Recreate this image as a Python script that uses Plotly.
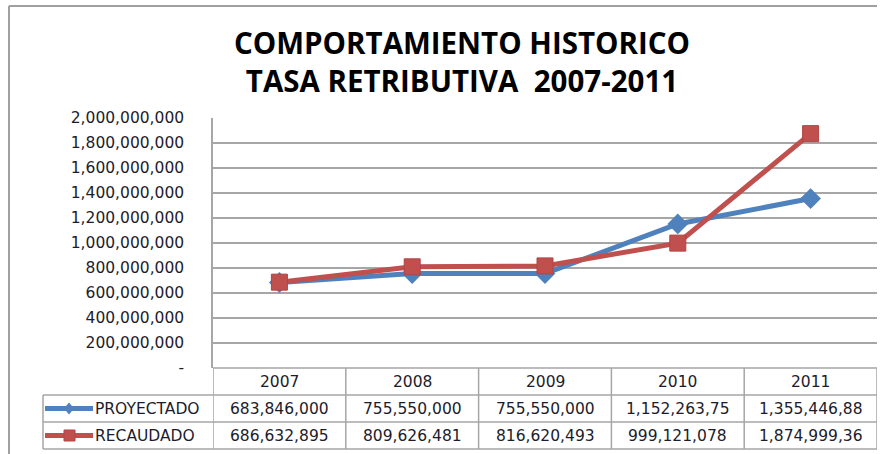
import plotly.graph_objects as go

# data
years = ['2007', '2008', '2009', '2010', '2011']
proyectado = [683846000, 755550000, 755550000, 1152263750, 1355446880]
recaudado = [686632895, 809626481, 816620493, 999121078, 1874999360]
# the table in the picture shows truncated cells for the last two years
proyectado_txt = ['683,846,000', '755,550,000', '755,550,000', '1,152,263,75', '1,355,446,88']
recaudado_txt = ['686,632,895', '809,626,481', '816,620,493', '999,121,078', '1,874,999,36']
y_ticks = [0, 200000000, 400000000, 600000000, 800000000, 1000000000,
           1200000000, 1400000000, 1600000000, 1800000000, 2000000000]
y_tick_labels = ['-', '200,000,000', '400,000,000', '600,000,000', '800,000,000',
                 '1,000,000,000', '1,200,000,000', '1,400,000,000', '1,600,000,000',
                 '1,800,000,000', '2,000,000,000']
series_names = ['PROYECTADO', 'RECAUDADO']
title_lines = ['COMPORTAMIENTO HISTORICO', 'TASA RETRIBUTIVA&nbsp; 2007-2011']

BLUE = '#4F81BD'
RED = '#C0504D'
GRID = '#a6a6a6'
TXT = '#1c1c2c'

W, H = 888, 454
L, R, T, B = 213, 11, 118, 86
PH = H - T - B          # plot height in px
PW = W - L - R

def py(y_px):           # pixel row -> paper y
    return (H - B - y_px) / PH

def px(x_px):           # pixel column -> paper x
    return (x_px - L) / PW

fig = go.Figure()
fig.add_trace(go.Scatter(x=years, y=proyectado, name=series_names[0], mode='lines+markers',
                         line=dict(color=BLUE, width=5),
                         marker=dict(symbol='diamond', size=16, color=BLUE)))
fig.add_trace(go.Scatter(x=years, y=recaudado, name=series_names[1], mode='lines+markers',
                         line=dict(color=RED, width=5),
                         marker=dict(symbol='square', size=16, color=RED,
                                     line=dict(color='#b04542', width=1))))

shapes = []
line_style = dict(color=GRID, width=1.5)
# table horizontal rules
shapes.append(dict(type='line', xref='x', yref='paper', x0=-0.5, x1=4.5,
                   y0=0, y1=0, line=line_style))
for yp in [395, 422, 449]:
    shapes.append(dict(type='line', xref='paper', yref='paper', x0=px(43), x1=1,
                       y0=py(yp), y1=py(yp), line=line_style))
# table vertical rules
for i in range(len(years) + 1):
    shapes.append(dict(type='line', xref='x', yref='paper', x0=i - 0.5, x1=i - 0.5,
                       y0=0, y1=py(449), line=line_style))
shapes.append(dict(type='line', xref='paper', yref='paper', x0=px(43), x1=px(43),
                   y0=py(395), y1=py(449), line=line_style))
# outer chart border (left and top)
shapes.append(dict(type='line', xref='paper', yref='paper', x0=px(9), x1=px(9),
                   y0=py(6), y1=py(456), line=dict(color='#a0a0a0', width=2)))
shapes.append(dict(type='line', xref='paper', yref='paper', x0=px(9), x1=1,
                   y0=py(6), y1=py(6), line=dict(color='#a0a0a0', width=2)))

# legend keys inside the table
for row, (color, sym) in enumerate([(BLUE, 'diamond'), (RED, 'square')]):
    cy = 408.5 + 27 * row
    shapes.append(dict(type='line', xref='paper', yref='paper', x0=px(45), x1=px(93),
                       y0=py(cy), y1=py(cy), line=dict(color=color, width=5)))
    if sym == 'diamond':
        cx = 69
        path = 'M {} {} L {} {} L {} {} L {} {} Z'.format(
            px(cx - 5), py(cy), px(cx), py(cy - 6), px(cx + 5), py(cy), px(cx), py(cy + 6))
        shapes.append(dict(type='path', xref='paper', yref='paper', path=path,
                           fillcolor=color, line=dict(color=color, width=0)))
    else:
        shapes.append(dict(type='rect', xref='paper', yref='paper',
                           x0=px(64), x1=px(75), y0=py(cy - 5.5), y1=py(cy + 5.5),
                           fillcolor=color, line=dict(color='#b04542', width=1)))

annotations = []
tfont = dict(family='DejaVu Sans', size=15.5, color=TXT)
for i, yr in enumerate(years):
    for yc, txt in [(381.5, yr), (408.5, proyectado_txt[i]), (435.5, recaudado_txt[i])]:
        annotations.append(dict(x=i, y=py(yc), xref='x', yref='paper', text=txt,
                                showarrow=False, xanchor='center', yanchor='middle',
                                font=tfont))
for row, name in enumerate(series_names):
    annotations.append(dict(x=px(93), y=py(408.5 + 27 * row), xref='paper', yref='paper',
                            text=name, showarrow=False, xanchor='left', yanchor='middle',
                            font=tfont))

# two-line title as one text block
annotations.append(dict(x=px(462), y=py(61), xref='paper', yref='paper',
                        text='<b>' + '</b><br><b>'.join(title_lines) + '</b>',
                        showarrow=False, xanchor='center', yanchor='middle',
                        font=dict(family='Open Sans', size=29.5, color='#000000')))

fig.update_layout(
    width=W, height=H,
    margin=dict(l=L, r=R, t=T, b=B),
    paper_bgcolor='white', plot_bgcolor='white',
    showlegend=False,
    shapes=shapes, annotations=annotations,
)
fig.update_xaxes(type='category', range=[-0.5, 4.5], showticklabels=False,
                 showgrid=False, zeroline=False, showline=False, fixedrange=True)
fig.update_yaxes(range=[0, 2000000000], tickvals=y_ticks, ticktext=y_tick_labels,
                 showgrid=True, gridcolor=GRID, gridwidth=1.5, zeroline=False,
                 showline=True, linecolor=GRID, linewidth=1.5,
                 ticks='', ticklabelstandoff=24,
                 tickfont=dict(family='DejaVu Sans', size=15.5, color=TXT))

fig.write_html('out.html', config={'displayModeBar': False},
               post_script="document.body.style.margin='0';")
